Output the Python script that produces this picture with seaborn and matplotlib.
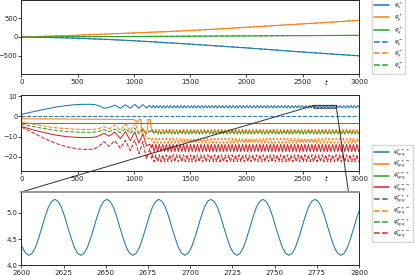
import numpy as np
import seaborn as sns
import matplotlib.pyplot as plt

sns.set_style("ticks")
plt.rcParams.update({
    "font.size": 5.2,
    "xtick.labelsize": 5.1,
    "ytick.labelsize": 4.9,
    "xtick.major.size": 2,
    "ytick.major.size": 2,
    "xtick.major.pad": 1.5,
    "ytick.major.pad": 0.8,
    "xtick.major.width": 0.6,
    "ytick.major.width": 0.6,
    "axes.linewidth": 0.7,
    "mathtext.fontset": "dejavusans",
})

colors = sns.color_palette("tab10")
blue, orange, green, red = colors[0], colors[1], colors[2], colors[3]

# ---- top panel: single phases ----
t_top = [0, 250, 500, 750, 1000, 1250, 1500, 1750, 2000, 2250, 2500, 2750, 3000]
phi_k = [0, -15, -35, -65, -100, -145, -190, -240, -290, -345, -400, -450, -500]
phi_p = [0, 20, 45, 75, 105, 135, 170, 210, 255, 300, 345, 390, 440]
phi_q = [0, 3, 6, 9, 12, 15, 19, 23, 27, 31, 35, 38, 42]
# the "-" phases lie on top of the "+" ones
phi_k_m = phi_k
phi_p_m = phi_p
phi_q_m = phi_q

# ---- middle panel: triad phases ----
# transient part
t_tr = [0, 100, 200, 300, 400, 500, 600, 650, 690, 735, 780, 830, 880, 925, 968, 1008, 1045, 1080, 1112, 1141]
ppp_tr = [1.0, 2.2, 3.4, 4.5, 5.3, 5.85, 5.95, 5.8, 5.2, 4.0, 4.4, 5.5, 4.0, 5.7, 4.0, 5.9, 4.0, 5.8, 4.1, 5.4]
mpm_tr = [-2.6, -3.8, -4.8, -5.6, -6.1, -6.4, -6.5, -6.4, -6.0, -5.0, -6.2, -4.4, -6.9, -3.8, -7.4, -3.2, -8.2, -5.5, -11.0, -10.8]
mmp_tr = [-3.9, -5.0, -6.0, -6.9, -7.5, -7.8, -7.9, -7.8, -7.4, -6.6, -7.6, -6.3, -8.2, -6.0, -8.5, -5.8, -8.6, -6.5, -8.6, -7.2]
pmm_tr = [-5.0, -6.6, -8.0, -9.2, -10.0, -10.4, -10.5, -10.3, -9.6, -8.4, -9.8, -7.8, -11.0, -7.5, -12.0, -7.6, -13.2, -8.5, -14.5, -13.8]
mmm_tr = [-5.3, -8.0, -10.8, -13.2, -15.0, -16.1, -16.4, -16.0, -14.8, -12.5, -14.8, -12.0, -15.8, -11.8, -17.0, -11.7, -18.5, -12.5, -21.0, -16.0]
t_ppm_tr = [0, 8, 300, 600, 900, 1000, 1030, 1045, 1062, 1070, 1088, 1105, 1120, 1127, 1146]
ppm_tr = [3.0, -1.2, -1.3, -1.4, -1.5, -1.6, -2.8, -1.5, -1.5, -8.0, -6.8, -8.3, -7.0, -1.5, -1.5]

# constant triads
t_flat = [0, 3000]
pmp_flat = [-3.2, -3.2]
mpp_flat = [0.0, 0.0]

# steady oscillation after t ~ 1157, one period (~30.8) sampled
t_osc_start = 1156.9
osc_step16 = 1.925
osc_step4 = 7.7
ppp_cycle = [4.19, 4.23, 4.34, 4.52, 4.72, 4.93, 5.11, 5.22, 5.26, 5.22, 5.11, 4.93, 4.72, 4.52, 4.34, 4.23]
ppm_cycle = [-7.5, -6.4, -7.5, -8.6]
mpm_cycle = [-12.0, -10.8, -12.0, -13.3]
mmp_cycle = [-8.0, -7.2, -8.0, -8.7]
pmm_cycle = [-15.6, -13.8, -15.6, -17.4]
mmm_cycle = [-20.7, -19.0, -20.7, -22.4]


def join(t_head, y_head, step, cycle):
    t_tail = np.arange(t_osc_start, 3000.01, step)
    t = np.concatenate([t_head, t_tail])
    y = np.concatenate([y_head, np.resize(cycle, len(t_tail))])
    return t, y


def thicken(leg):
    for line in leg.get_lines():
        line.set_linewidth(1.1)


fig = plt.figure(figsize=(4.15, 2.75), dpi=100)
ax_top = fig.add_axes([0.0513, 0.731, 0.8137, 0.2695])
ax_mid = fig.add_axes([0.0513, 0.378, 0.8137, 0.2764])
ax_bot = fig.add_axes([0.0513, 0.0353, 0.8137, 0.2665])

lw = 0.75
leg_kw = dict(fontsize=4.0, handlelength=2.7, borderpad=0.4,
              handletextpad=0.8, borderaxespad=0)

top_series = [
    (phi_k, blue, "-", r"$\varphi_k^+$"),
    (phi_p, orange, "-", r"$\varphi_p^+$"),
    (phi_q, green, "-", r"$\varphi_q^+$"),
    (phi_k_m, blue, "--", r"$\varphi_k^-$"),
    (phi_p_m, orange, "--", r"$\varphi_p^-$"),
    (phi_q_m, green, "--", r"$\varphi_q^-$"),
]
for vals, c, ls, lab in top_series:
    sns.lineplot(x=t_top, y=vals, ax=ax_top, color=c, linestyle=ls, lw=lw, label=lab, estimator=None)
ax_top.set_xlim(0, 3000)
ax_top.set_ylim(-980, 980)
ax_top.set_yticks([-500, 0, 500])
ax_top.set_xticks(range(0, 3001, 500))
ax_top.set_xlabel("$t$")
ax_top.xaxis.set_label_coords(0.905, -0.035)
thicken(ax_top.legend(loc="lower left", bbox_to_anchor=(1.0385, 0), labelspacing=0.25, **leg_kw))

t_ppp, y_ppp = join(t_tr, ppp_tr, osc_step16, ppp_cycle)
mid_series = [
    (t_ppp, y_ppp, blue, "-", r"$\varphi_{kpq}^{+++}$"),
    (*join(t_ppm_tr, ppm_tr, osc_step4, ppm_cycle), orange, "-", r"$\varphi_{kpq}^{++-}$"),
    (t_flat, pmp_flat, green, "-", r"$\varphi_{kpq}^{+-+}$"),
    (*join(t_tr, pmm_tr, osc_step4, pmm_cycle), red, "-", r"$\varphi_{kpq}^{+--}$"),
    (t_flat, mpp_flat, blue, "--", r"$\varphi_{kpq}^{-++}$"),
    (*join(t_tr, mpm_tr, osc_step4, mpm_cycle), orange, "--", r"$\varphi_{kpq}^{-+-}$"),
    (*join(t_tr, mmp_tr, osc_step4, mmp_cycle), green, "--", r"$\varphi_{kpq}^{--+}$"),
    (*join(t_tr, mmm_tr, osc_step4, mmm_cycle), red, "--", r"$\varphi_{kpq}^{---}$"),
]
for t, vals, c, ls, lab in mid_series:
    sns.lineplot(x=t, y=vals, ax=ax_mid, color=c, linestyle=ls, lw=lw, label=lab, estimator=None)
handles, labels = ax_mid.get_legend_handles_labels()
if ax_mid.get_legend() is not None:
    ax_mid.get_legend().remove()
ax_mid.set_xlim(0, 3000)
ax_mid.set_ylim(-27, 10.5)
ax_mid.set_yticks([-20, -10, 0, 10])
ax_mid.set_xticks(range(0, 3001, 500))
ax_mid.set_xlabel("$t$")
ax_mid.xaxis.set_label_coords(0.905, -0.02)

# zoomed view of the +++ phase
sns.lineplot(x=t_ppp, y=y_ppp, ax=ax_bot, color=blue, lw=lw, estimator=None)
ax_bot.set_xlim(2600, 2800)
ax_bot.set_ylim(4.0, 5.4)
ax_bot.set_yticks([4.0, 4.5, 5.0])
ax_bot.set_xticks(range(2600, 2801, 25))
ax_bot.spines["top"].set_color("0.55")
ax_bot.spines["top"].set_linewidth(1.3)

ax_mid.indicate_inset_zoom(ax_bot, edgecolor="0.1", alpha=0.9, lw=0.7)

thicken(fig.legend(handles, labels, loc="lower left", bbox_to_anchor=(0.8957, 0.121),
                   labelspacing=0.0, **leg_kw))

fig.savefig("out.png", dpi=100)
